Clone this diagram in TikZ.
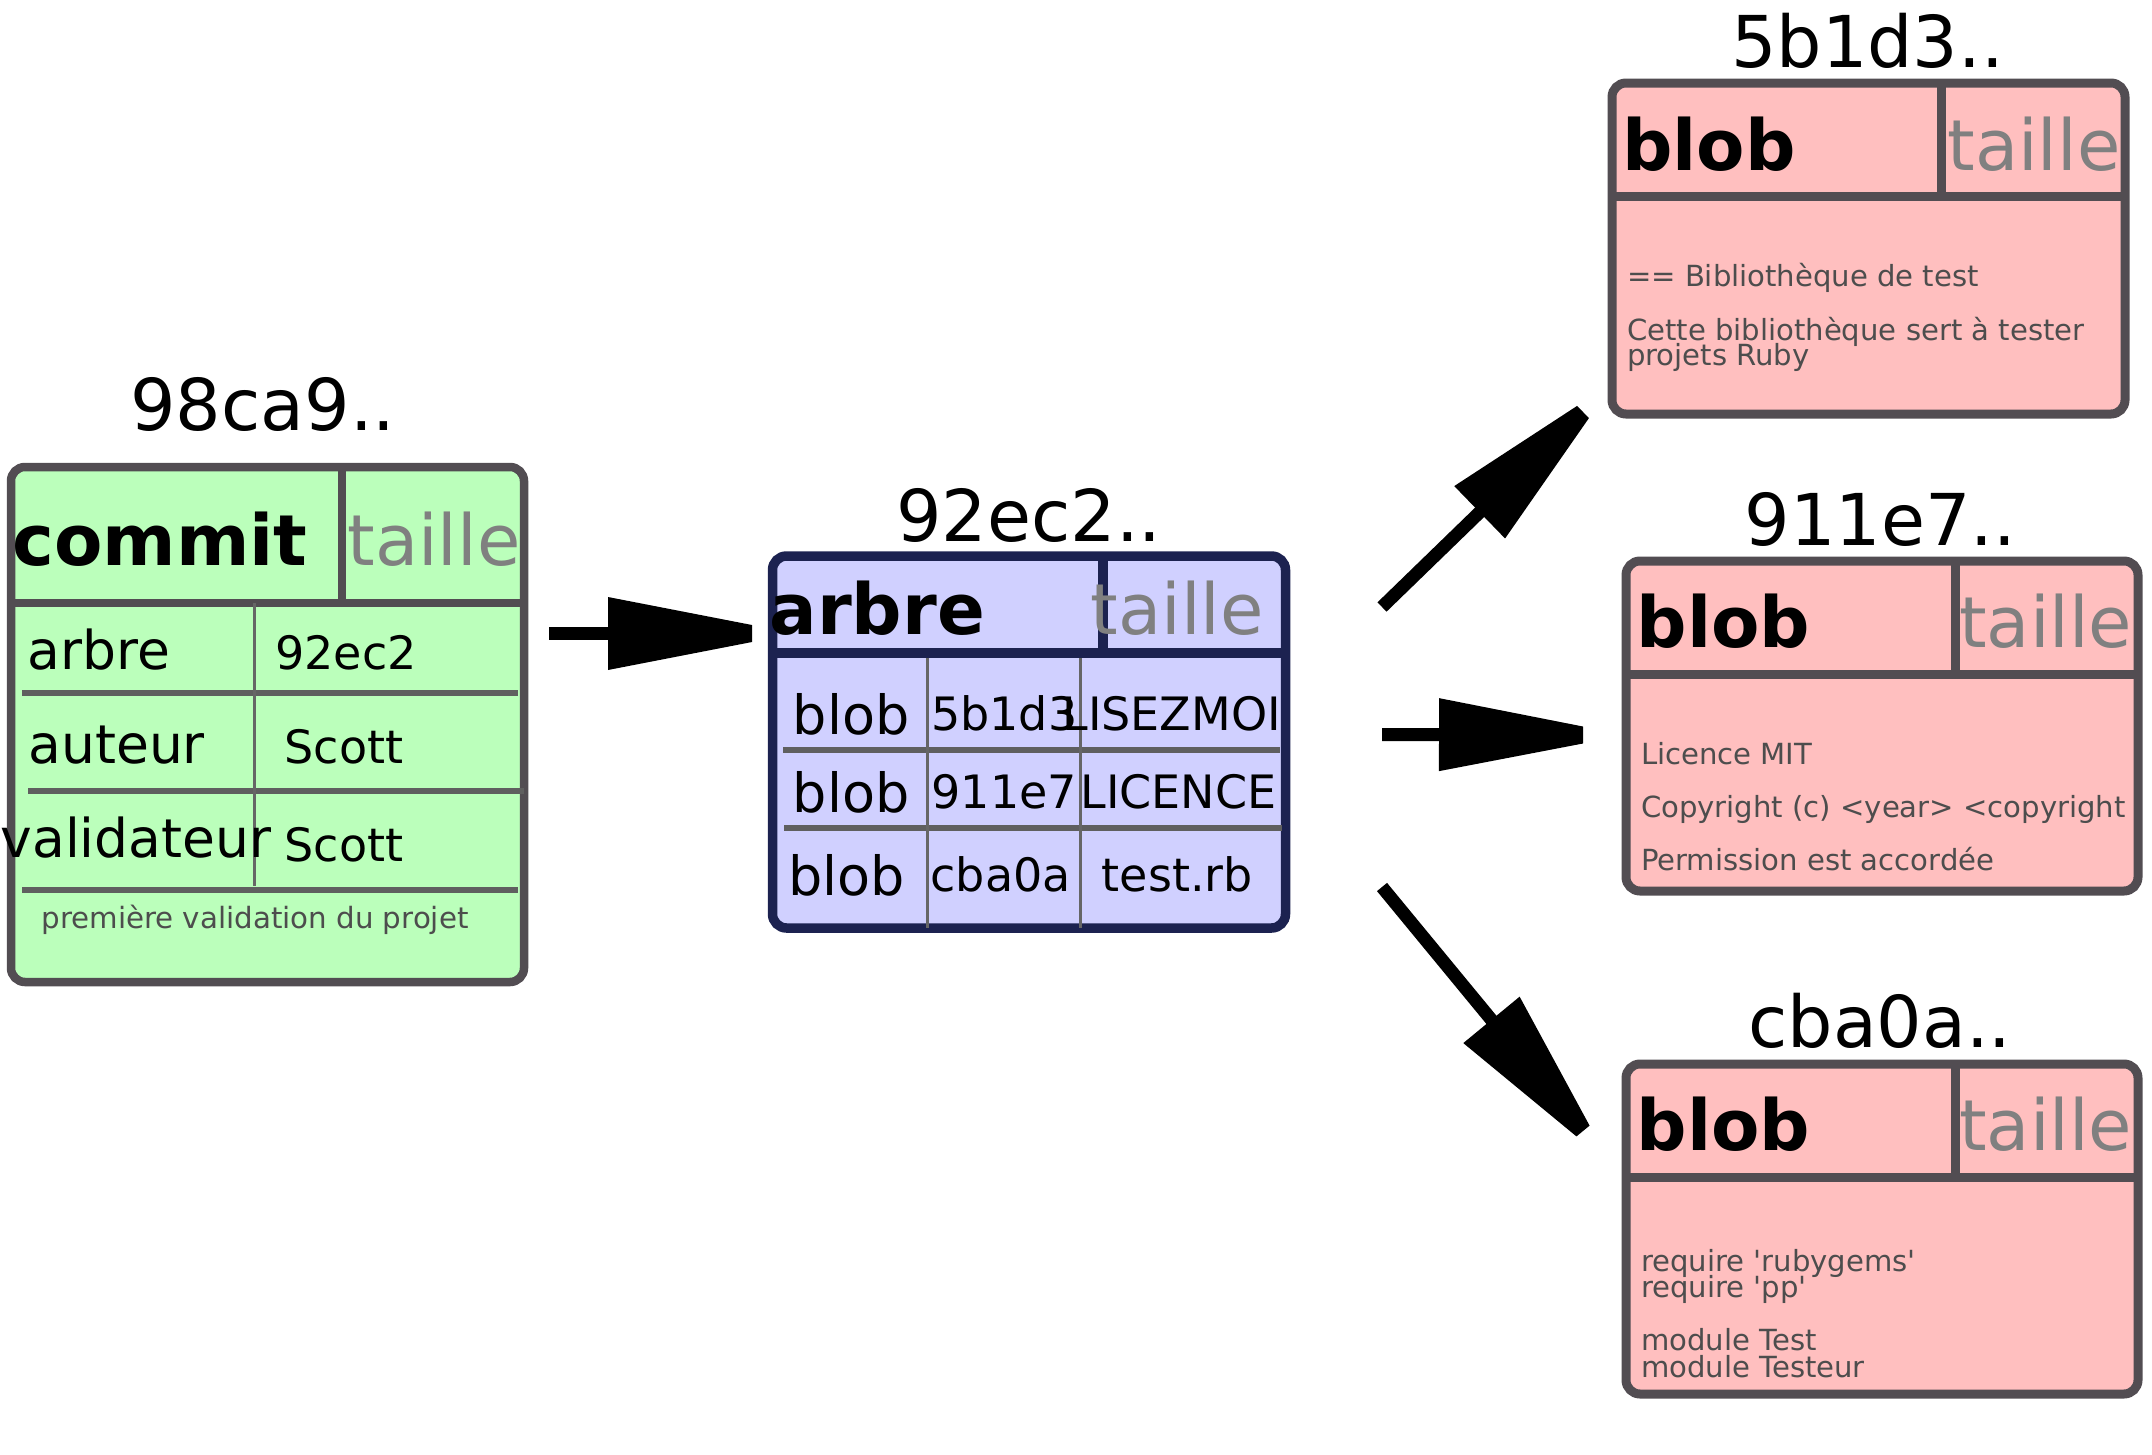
\documentclass[tikz,border=0pt]{standalone}
\usepackage{fontspec}
\setmainfont{DejaVu Sans}
\usetikzlibrary{calc}
\definecolor{bordergray}{HTML}{524D52}
\definecolor{treeblue}{HTML}{1C2250}
\definecolor{commitfill}{HTML}{BBFFBB}
\definecolor{treefill}{HTML}{D0D0FF}
\definecolor{blobfill}{HTML}{FFBFBF}
\definecolor{rowgray}{HTML}{5F5F5F}
\definecolor{colgray}{HTML}{666666}
\definecolor{taillegray}{HTML}{808080}
\definecolor{bodygray}{HTML}{4D4D4D}
\newcommand\fatarrow[2]{%
  \coordinate (hb) at ($(#2)!144pt!(#1)$);
  \draw[line width=13pt, line cap=butt] (#1) -- ($(#2)!140pt!(#1)$);
  \fill ($(hb)!36.5pt!90:(#2)$) -- ($(#2)!8.5pt!-90:(#1)$) -- ($(#2)!8.5pt!90:(#1)$) -- ($(hb)!36.5pt!-90:(#2)$) -- cycle;
}
\begin{document}
\begin{tikzpicture}[x=1pt,y=-1pt,
  box/.style={draw, rectangle, rounded corners=14pt, inner sep=0pt, outer sep=0pt},
  commitbox/.style={box, fill=commitfill, draw=bordergray, line width=8.5pt},
  treebox/.style={box, fill=treefill, draw=treeblue, line width=9.5pt},
  blobbox/.style={box, fill=blobfill, draw=bordergray, line width=9pt},
  csep/.style={draw=bordergray, line width=8.5pt},
  tsep/.style={draw=treeblue, line width=9.5pt},
  crow/.style={draw=rowgray, line width=6pt},
  ccol/.style={draw=colgray, line width=3pt},
  txt/.style={inner sep=0pt, outer sep=0pt, anchor=base},
  hdr/.style={txt, font=\fontsize{70.5}{70.5}\selectfont\bfseries},
  sz/.style={txt, text=taillegray, font=\fontsize{70.5}{70.5}\selectfont},
  hash/.style={txt, font=\fontsize{71.5}{71.5}\selectfont},
  lbl/.style={txt, font=\fontsize{53.5}{53.5}\selectfont},
  val/.style={txt, font=\fontsize{46}{46}\selectfont},
  msg/.style={txt, text=bodygray, font=\fontsize{29.3}{29.3}\selectfont},
  body/.style={inner sep=0pt, outer sep=0pt, anchor=base west, text=bodygray, font=\fontsize{29.1}{29.1}\selectfont}
]
\useasboundingbox (0,0) rectangle (2152,1454);

% ---------- boxes ----------
\node[commitbox, minimum width=513pt, minimum height=515pt] (commit) at (267.5,724.5) {};
\node[treebox, minimum width=513pt, minimum height=372pt] (tree) at (1029,742) {};
\node[blobbox, minimum width=513pt, minimum height=331pt] (blobA) at (1868.5,248.5) {};
\node[blobbox, minimum width=512pt, minimum height=330pt] (blobB) at (1882,726) {};
\node[blobbox, minimum width=512pt, minimum height=330pt] (blobC) at (1882,1229) {};

% ---------- commit inner lines ----------
\draw[csep] (11,603) -- (524,603);
\draw[csep] (342,467) -- (342,603);
\draw[crow] (22,693) -- (518,693);
\draw[crow] (28,791) -- (524,791);
\draw[crow] (22,890) -- (518,890);
\draw[ccol] (254,603) -- (254,886);

% ---------- tree inner lines ----------
\draw[tsep] (772.5,653) -- (1285.5,653);
\draw[tsep] (1103,556) -- (1103,653);
\draw[crow] (783,750) -- (1280,750);
\draw[crow] (784,828) -- (1282,828);
\draw[ccol] (927.5,658) -- (927.5,928);
\draw[ccol] (1080.5,658) -- (1080.5,928);

% ---------- blob inner lines ----------
\draw[csep, line width=9pt] (1612,196) -- (2125,196);
\draw[csep, line width=9pt] (1941,83) -- (1941,196);
\draw[csep, line width=9pt] (1626,674) -- (2138,674);
\draw[csep, line width=9pt] (1955,561) -- (1955,674);
\draw[csep, line width=9pt] (1626,1177) -- (2138,1177);
\draw[csep, line width=9pt] (1955,1064) -- (1955,1177);

% ---------- hash labels ----------
\node[hash] (hcommit) at (263,430) {98ca9..};
\node[hash] (htree) at (1029,541) {92ec2..};
\node[hash] (hblobA) at (1867.5,67) {5b1d3..};
\node[hash] (hblobB) at (1880.5,545) {911e7..};
\node[hash] (hblobC) at (1880,1047) {cba0a..};

% ---------- commit texts ----------
\node[hdr] (tcommit) at (160,565) {commit};
\node[sz] (tcsize) at (434,565) {taille};
\node[lbl] (tcarbre) at (98.7,669) {arbre};
\node[val] (tcarbrev) at (346,669) {92ec2};
\node[lbl] (tcaut) at (116.7,763) {auteur};
\node[val] (tcautv) at (344,763) {Scott};
\node[lbl] (tcval) at (136,857) {validateur};
\node[val] (tcvalv) at (344,861) {Scott};
\node[msg] (tcmsg) at (255,928) {première validation du projet};

% ---------- tree texts ----------
\node[hdr] (ttree) at (877.3,634) {arbre};
\node[sz] (ttsize) at (1177.4,634) {taille};
\node[lbl, font=\fontsize{54}{54}\selectfont] (tr1a) at (851,734) {blob};
\node[val] (tr1b) at (1004.3,730) {5b1d3};
\node[val] (tr1c) at (1171.7,730) {LISEZMOI};
\node[lbl, font=\fontsize{54}{54}\selectfont] (tr2a) at (851,812) {blob};
\node[val] (tr2b) at (1004.3,808) {911e7};
\node[val] (tr2c) at (1178.4,808) {LICENCE};
\node[lbl, font=\fontsize{54}{54}\selectfont] (tr3a) at (846.3,895) {blob};
\node[val] (tr3b) at (1000.7,891) {cba0a};
\node[val] (tr3c) at (1177.4,891) {test.rb};

% ---------- blob texts ----------
\node[hdr] (tbA) at (1708.8,170) {blob};
\node[sz] (tbAs) at (2034,170) {taille};
\node[body] (bA1) at (1627,286) {== Bibliothèque de test};
\node[body] (bA2) at (1627,340) {Cette bibliothèque sert à tester};
\node[body] (bA3) at (1627,365) {projets Ruby};

\node[hdr] (tbB) at (1723.6,647) {blob};
\node[sz] (tbBs) at (2045.7,647) {taille};
\node[body] (bB1) at (1641,764) {Licence MIT};
\node[body] (bB2) at (1641,817) {Copyright (c) <year> <copyright};
\node[body] (bB3) at (1641,870) {Permission est accordée};

\node[hdr] (tbC) at (1723.6,1150) {blob};
\node[sz] (tbCs) at (2045.7,1150) {taille};
\node[body] (bC1) at (1641,1271) {require \textquotesingle rubygems\textquotesingle};
\node[body] (bC2) at (1641,1297) {require \textquotesingle pp\textquotesingle};
\node[body] (bC3) at (1641,1350) {module Test};
\node[body] (bC4) at (1641,1377) {module Testeur};

% ---------- arrows ----------
\coordinate (a1s) at (549,633.5);
\coordinate (a1e) at (752,633.5);
\coordinate (a2s) at (1382,607);
\coordinate (a2e) at (1583,412);
\coordinate (a3s) at (1382,734.5);
\coordinate (a3e) at (1583,735);
\coordinate (a4s) at (1382,887);
\coordinate (a4e) at (1583,1131);
\fatarrow{a1s}{a1e}
\fatarrow{a2s}{a2e}
\fatarrow{a3s}{a3e}
\fatarrow{a4s}{a4e}
\end{tikzpicture}
\end{document}
